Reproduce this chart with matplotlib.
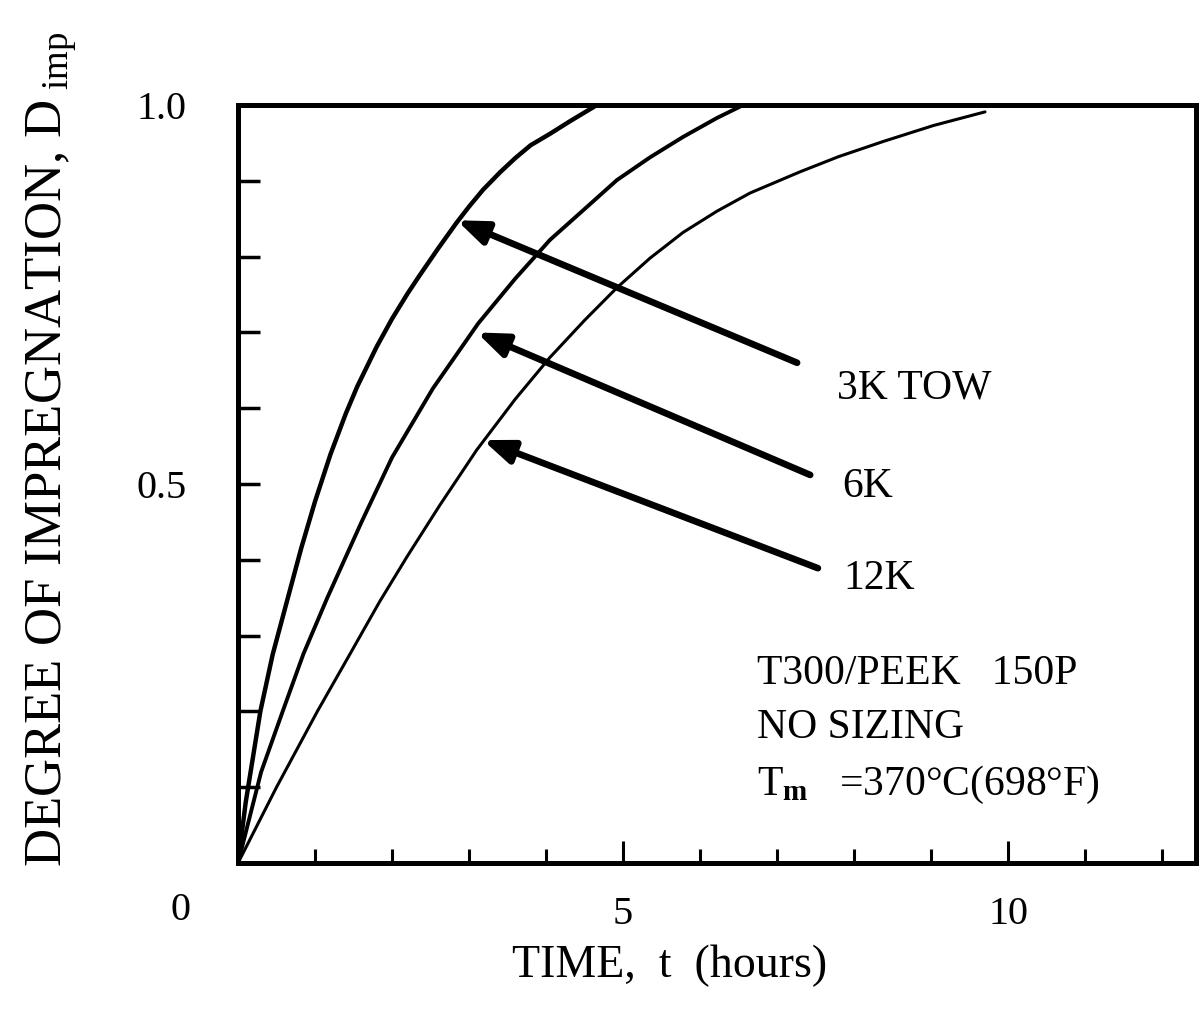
import matplotlib
matplotlib.use("Agg")
import matplotlib.pyplot as plt

plt.rcParams['font.family'] = ['Liberation Serif', 'DejaVu Serif']
plt.rcParams['mathtext.fontset'] = 'custom'
plt.rcParams['mathtext.rm'] = 'Liberation Serif'
plt.rcParams['mathtext.it'] = 'Liberation Serif:italic'
plt.rcParams['mathtext.bf'] = 'Liberation Serif:bold'

# values (time in hours, degree of impregnation)
t_3k = [0, 0.1, 0.29, 0.45, 0.64, 0.82, 1.0, 1.2, 1.4, 1.55, 1.8, 2.0, 2.2, 2.35,
        2.6, 2.84, 3.0, 3.18, 3.4, 3.6, 3.8, 4.05, 4.3, 4.66]
d_3k = [0, 0.08, 0.20, 0.275, 0.347, 0.415, 0.477, 0.539, 0.593, 0.629, 0.681, 0.718,
        0.751, 0.774, 0.811, 0.845, 0.866, 0.888, 0.911, 0.93, 0.947, 0.962, 0.978, 1.0]

t_6k = [0, 0.3, 0.58, 0.85, 1.16, 1.6, 2.0, 2.53, 3.12, 3.6, 4.05, 4.48, 4.92, 5.35,
        5.78, 6.22, 6.56]
d_6k = [0, 0.12, 0.20, 0.276, 0.35, 0.449, 0.535, 0.626, 0.712, 0.771, 0.822, 0.861,
        0.901, 0.931, 0.958, 0.983, 1.0]

t_12k = [0, 0.5, 1.03, 1.45, 1.84, 2.2, 2.62, 3.1, 3.6, 4.05, 4.5, 4.92, 5.35, 5.78,
         6.22, 6.65, 7.3, 7.8, 8.38, 9.03, 9.7]
d_12k = [0, 0.10, 0.20, 0.275, 0.345, 0.405, 0.472, 0.545, 0.612, 0.667, 0.716, 0.759,
         0.798, 0.832, 0.860, 0.884, 0.912, 0.932, 0.952, 0.973, 0.991]

# labels, arrow tips (on curves) and arrow tails (near labels)
labels = ['3K TOW', '6K', '12K']
arrow_tips = [(2.84, 0.848), (3.10, 0.70), (3.18, 0.558)]
arrow_tails = [(7.26, 0.660), (7.43, 0.512), (7.53, 0.389)]
label_pos = [(7.78, 0.627), (7.84, 0.497), (7.86, 0.375)]

note_lines = ['T300/PEEK   150P', 'NO SIZING', r'$\mathrm{T}_{\mathbf{m}}$   =370°C(698°F)']
note_y = [0.250, 0.178, 0.103]

x_major = [5, 10]
x_minor = [1, 2, 3, 4, 6, 7, 8, 9, 11, 12]
y_major = [0.5, 1.0]
y_minor = [0.1, 0.2, 0.3, 0.4, 0.6, 0.7, 0.8, 0.9]

fig = plt.figure(figsize=(11.99, 10.24), dpi=100)
ax = fig.add_axes([0.1985, 0.1572, 0.799, 0.7402])

ax.plot(t_3k, d_3k, color='black', lw=3.2, solid_capstyle='round', solid_joinstyle='round')
ax.plot(t_6k, d_6k, color='black', lw=2.8, solid_capstyle='round', solid_joinstyle='round')
ax.plot(t_12k, d_12k, color='black', lw=2.2, solid_capstyle='round', solid_joinstyle='round')

for lab, tip, tail, pos in zip(labels, arrow_tips, arrow_tails, label_pos):
    ax.annotate('', xy=tip, xytext=tail,
                arrowprops=dict(arrowstyle='-|>,head_length=0.9,head_width=0.35',
                                lw=4.8, color='black', mutation_scale=20,
                                shrinkA=0, shrinkB=0, capstyle='round'))
    ax.text(pos[0], pos[1], lab, fontsize=30, va='center', ha='left')

for txt, yy in zip(note_lines, note_y):
    ax.text(6.74, yy, txt, fontsize=30, va='center', ha='left')

ax.set_xlim(0, 12.44)
ax.set_ylim(0, 1.0)

ax.set_xticks(x_major)
ax.set_xticklabels(['5', '10'])
ax.set_xticks(x_minor, minor=True)
ax.set_yticks(y_major)
ax.set_yticklabels(['0.5', '1.0'])
ax.set_yticks(y_minor, minor=True)

ax.tick_params(axis='x', which='major', direction='in', length=16, width=2.2,
               labelsize=29, pad=24, top=False)
ax.tick_params(axis='x', which='minor', direction='in', length=10, width=2.2, top=False)
ax.tick_params(axis='y', which='both', direction='in', length=16, width=2.5,
               labelsize=29, pad=37, right=False)

# origin label sits at the lower-left corner
ax.annotate('0', xy=(0, 0), xytext=(-58, -47), textcoords='offset pixels',
            fontsize=29, ha='center', va='center', annotation_clip=False)

for s in ax.spines.values():
    s.set_linewidth(3.6)

ax.set_xlabel('TIME,  t  (hours)', fontsize=33)
ax.xaxis.set_label_coords(0.45, -0.108)
ax.set_ylabel(r'DEGREE OF IMPREGNATION, $\mathrm{D}_{\ \mathrm{imp}}$', fontsize=38)
ax.yaxis.set_label_coords(-0.166, 0.545)

fig.savefig('out.png', dpi=100, facecolor='white')
